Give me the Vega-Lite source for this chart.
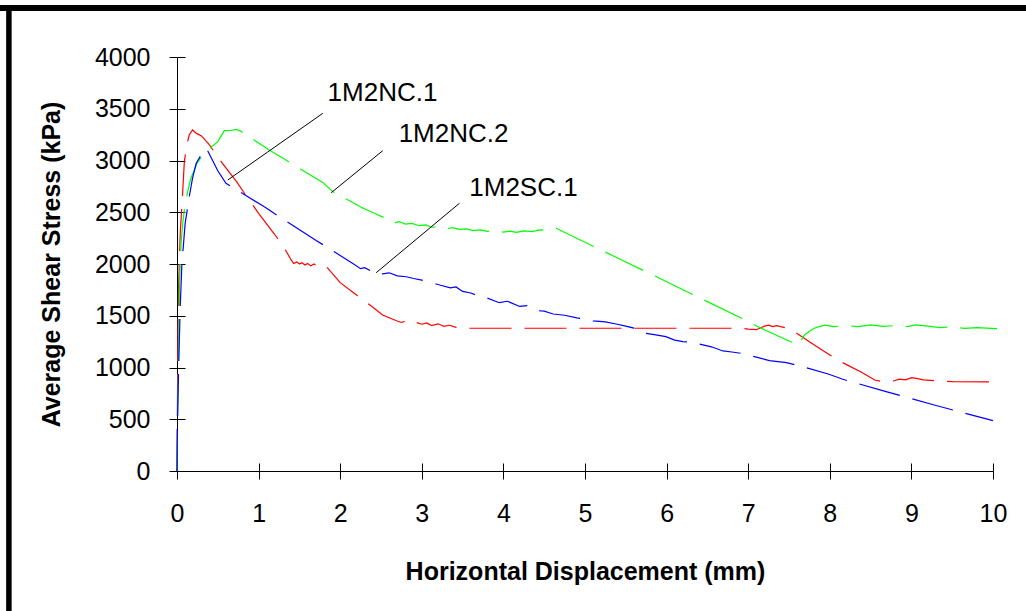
{
  "$schema": "https://vega.github.io/schema/vega-lite/v6.json",
  "width": 816,
  "height": 414,
  "autosize": {"type": "none"},
  "padding": {"left": 177, "top": 57, "right": 33, "bottom": 140},
  "background": "white",
  "config": {"view": {"stroke": null}, "font": "Liberation Sans"},
  "datasets": {
    "curves": [
      {"s": "1M2NC.1", "d": 0, "t": 0}, {"s": "1M2NC.1", "d": 0.005, "t": 600}, {"s": "1M2NC.1", "d": 0.01, "t": 1200}, {"s": "1M2NC.1", "d": 0.02, "t": 1800}, {"s": "1M2NC.1", "d": 0.04, "t": 2300}, {"s": "1M2NC.1", "d": 0.07, "t": 2700}, {"s": "1M2NC.1", "d": 0.09, "t": 2990}, {"s": "1M2NC.1", "d": 0.12, "t": 3150}, {"s": "1M2NC.1", "d": 0.15, "t": 3246}, {"s": "1M2NC.1", "d": 0.19, "t": 3295}, {"s": "1M2NC.1", "d": 0.235, "t": 3263}, {"s": "1M2NC.1", "d": 0.27, "t": 3250}, {"s": "1M2NC.1", "d": 0.3, "t": 3237}, {"s": "1M2NC.1", "d": 0.39, "t": 3159}, {"s": "1M2NC.1", "d": 0.55, "t": 2980}, {"s": "1M2NC.1", "d": 0.73, "t": 2795}, {"s": "1M2NC.1", "d": 0.84, "t": 2667}, {"s": "1M2NC.1", "d": 1.0, "t": 2490}, {"s": "1M2NC.1", "d": 1.17, "t": 2312}, {"s": "1M2NC.1", "d": 1.28, "t": 2200}, {"s": "1M2NC.1", "d": 1.4, "t": 2039}, {"s": "1M2NC.1", "d": 1.43, "t": 2005}, {"s": "1M2NC.1", "d": 1.47, "t": 2020}, {"s": "1M2NC.1", "d": 1.5, "t": 2000}, {"s": "1M2NC.1", "d": 1.53, "t": 2012}, {"s": "1M2NC.1", "d": 1.57, "t": 1990}, {"s": "1M2NC.1", "d": 1.6, "t": 2005}, {"s": "1M2NC.1", "d": 1.64, "t": 1982}, {"s": "1M2NC.1", "d": 1.68, "t": 2000}, {"s": "1M2NC.1", "d": 1.72, "t": 1978}, {"s": "1M2NC.1", "d": 1.76, "t": 1992}, {"s": "1M2NC.1", "d": 1.83, "t": 1975}, {"s": "1M2NC.1", "d": 2.0, "t": 1820}, {"s": "1M2NC.1", "d": 2.2, "t": 1700}, {"s": "1M2NC.1", "d": 2.38, "t": 1594}, {"s": "1M2NC.1", "d": 2.52, "t": 1507}, {"s": "1M2NC.1", "d": 2.69, "t": 1452}, {"s": "1M2NC.1", "d": 2.75, "t": 1435}, {"s": "1M2NC.1", "d": 2.8, "t": 1448}, {"s": "1M2NC.1", "d": 2.86, "t": 1425}, {"s": "1M2NC.1", "d": 2.92, "t": 1438}, {"s": "1M2NC.1", "d": 3.0, "t": 1418}, {"s": "1M2NC.1", "d": 3.06, "t": 1430}, {"s": "1M2NC.1", "d": 3.12, "t": 1405}, {"s": "1M2NC.1", "d": 3.2, "t": 1422}, {"s": "1M2NC.1", "d": 3.27, "t": 1398}, {"s": "1M2NC.1", "d": 3.34, "t": 1408}, {"s": "1M2NC.1", "d": 3.42, "t": 1388}, {"s": "1M2NC.1", "d": 3.52, "t": 1379}, {"s": "1M2NC.1", "d": 4.5, "t": 1379}, {"s": "1M2NC.1", "d": 5.5, "t": 1379}, {"s": "1M2NC.1", "d": 6.93, "t": 1379}, {"s": "1M2NC.1", "d": 7.0, "t": 1370}, {"s": "1M2NC.1", "d": 7.1, "t": 1365}, {"s": "1M2NC.1", "d": 7.2, "t": 1400}, {"s": "1M2NC.1", "d": 7.25, "t": 1410}, {"s": "1M2NC.1", "d": 7.3, "t": 1395}, {"s": "1M2NC.1", "d": 7.35, "t": 1405}, {"s": "1M2NC.1", "d": 7.45, "t": 1385}, {"s": "1M2NC.1", "d": 7.5, "t": 1379}, {"s": "1M2NC.1", "d": 7.75, "t": 1249}, {"s": "1M2NC.1", "d": 7.89, "t": 1176}, {"s": "1M2NC.1", "d": 8.1, "t": 1070}, {"s": "1M2NC.1", "d": 8.4, "t": 950}, {"s": "1M2NC.1", "d": 8.55, "t": 879}, {"s": "1M2NC.1", "d": 8.62, "t": 868}, {"s": "1M2NC.1", "d": 8.7, "t": 875}, {"s": "1M2NC.1", "d": 8.78, "t": 870}, {"s": "1M2NC.1", "d": 8.85, "t": 888}, {"s": "1M2NC.1", "d": 8.93, "t": 880}, {"s": "1M2NC.1", "d": 9.0, "t": 902}, {"s": "1M2NC.1", "d": 9.06, "t": 895}, {"s": "1M2NC.1", "d": 9.15, "t": 880}, {"s": "1M2NC.1", "d": 9.3, "t": 872}, {"s": "1M2NC.1", "d": 9.5, "t": 863}, {"s": "1M2NC.1", "d": 10.05, "t": 860},

      {"s": "1M2NC.2", "d": 0, "t": 0}, {"s": "1M2NC.2", "d": 0.01, "t": 600}, {"s": "1M2NC.2", "d": 0.02, "t": 1200}, {"s": "1M2NC.2", "d": 0.03, "t": 1800}, {"s": "1M2NC.2", "d": 0.05, "t": 2200}, {"s": "1M2NC.2", "d": 0.07, "t": 2393}, {"s": "1M2NC.2", "d": 0.09, "t": 2522}, {"s": "1M2NC.2", "d": 0.13, "t": 2700}, {"s": "1M2NC.2", "d": 0.17, "t": 2828}, {"s": "1M2NC.2", "d": 0.25, "t": 2980}, {"s": "1M2NC.2", "d": 0.32, "t": 3060}, {"s": "1M2NC.2", "d": 0.4, "t": 3118}, {"s": "1M2NC.2", "d": 0.5, "t": 3182}, {"s": "1M2NC.2", "d": 0.58, "t": 3288}, {"s": "1M2NC.2", "d": 0.65, "t": 3290}, {"s": "1M2NC.2", "d": 0.73, "t": 3301}, {"s": "1M2NC.2", "d": 0.79, "t": 3279}, {"s": "1M2NC.2", "d": 1.13, "t": 3101}, {"s": "1M2NC.2", "d": 1.3, "t": 3021}, {"s": "1M2NC.2", "d": 1.79, "t": 2786}, {"s": "1M2NC.2", "d": 1.91, "t": 2699}, {"s": "1M2NC.2", "d": 2.28, "t": 2538}, {"s": "1M2NC.2", "d": 2.42, "t": 2490}, {"s": "1M2NC.2", "d": 2.6, "t": 2425}, {"s": "1M2NC.2", "d": 2.66, "t": 2395}, {"s": "1M2NC.2", "d": 2.72, "t": 2410}, {"s": "1M2NC.2", "d": 2.8, "t": 2385}, {"s": "1M2NC.2", "d": 2.88, "t": 2392}, {"s": "1M2NC.2", "d": 2.97, "t": 2370}, {"s": "1M2NC.2", "d": 3.05, "t": 2378}, {"s": "1M2NC.2", "d": 3.12, "t": 2355}, {"s": "1M2NC.2", "d": 3.2, "t": 2362}, {"s": "1M2NC.2", "d": 3.3, "t": 2340}, {"s": "1M2NC.2", "d": 3.38, "t": 2352}, {"s": "1M2NC.2", "d": 3.46, "t": 2335}, {"s": "1M2NC.2", "d": 3.55, "t": 2340}, {"s": "1M2NC.2", "d": 3.63, "t": 2322}, {"s": "1M2NC.2", "d": 3.72, "t": 2330}, {"s": "1M2NC.2", "d": 3.8, "t": 2315}, {"s": "1M2NC.2", "d": 3.9, "t": 2325}, {"s": "1M2NC.2", "d": 4.0, "t": 2308}, {"s": "1M2NC.2", "d": 4.08, "t": 2318}, {"s": "1M2NC.2", "d": 4.16, "t": 2305}, {"s": "1M2NC.2", "d": 4.25, "t": 2320}, {"s": "1M2NC.2", "d": 4.35, "t": 2312}, {"s": "1M2NC.2", "d": 4.45, "t": 2330}, {"s": "1M2NC.2", "d": 4.55, "t": 2322}, {"s": "1M2NC.2", "d": 4.65, "t": 2345}, {"s": "1M2NC.2", "d": 4.69, "t": 2328}, {"s": "1M2NC.2", "d": 5.5, "t": 2020}, {"s": "1M2NC.2", "d": 6.46, "t": 1652}, {"s": "1M2NC.2", "d": 6.98, "t": 1452}, {"s": "1M2NC.2", "d": 7.12, "t": 1394}, {"s": "1M2NC.2", "d": 7.61, "t": 1217}, {"s": "1M2NC.2", "d": 7.69, "t": 1314}, {"s": "1M2NC.2", "d": 7.75, "t": 1350}, {"s": "1M2NC.2", "d": 7.81, "t": 1379}, {"s": "1M2NC.2", "d": 7.87, "t": 1395}, {"s": "1M2NC.2", "d": 7.94, "t": 1410}, {"s": "1M2NC.2", "d": 8.05, "t": 1395}, {"s": "1M2NC.2", "d": 8.2, "t": 1405}, {"s": "1M2NC.2", "d": 8.35, "t": 1395}, {"s": "1M2NC.2", "d": 8.5, "t": 1412}, {"s": "1M2NC.2", "d": 8.65, "t": 1398}, {"s": "1M2NC.2", "d": 8.8, "t": 1405}, {"s": "1M2NC.2", "d": 8.95, "t": 1395}, {"s": "1M2NC.2", "d": 9.05, "t": 1412}, {"s": "1M2NC.2", "d": 9.2, "t": 1400}, {"s": "1M2NC.2", "d": 9.35, "t": 1385}, {"s": "1M2NC.2", "d": 9.5, "t": 1392}, {"s": "1M2NC.2", "d": 9.65, "t": 1378}, {"s": "1M2NC.2", "d": 9.8, "t": 1385}, {"s": "1M2NC.2", "d": 10.05, "t": 1375},

      {"s": "1M2SC.1", "d": 0, "t": 0}, {"s": "1M2SC.1", "d": 0.005, "t": 450}, {"s": "1M2SC.1", "d": 0.02, "t": 1000}, {"s": "1M2SC.1", "d": 0.04, "t": 1600}, {"s": "1M2SC.1", "d": 0.06, "t": 2000}, {"s": "1M2SC.1", "d": 0.1, "t": 2393}, {"s": "1M2SC.1", "d": 0.15, "t": 2650}, {"s": "1M2SC.1", "d": 0.19, "t": 2828}, {"s": "1M2SC.1", "d": 0.235, "t": 2973}, {"s": "1M2SC.1", "d": 0.3, "t": 3060}, {"s": "1M2SC.1", "d": 0.36, "t": 3118}, {"s": "1M2SC.1", "d": 0.43, "t": 3010}, {"s": "1M2SC.1", "d": 0.5, "t": 2901}, {"s": "1M2SC.1", "d": 0.6, "t": 2780}, {"s": "1M2SC.1", "d": 1.08, "t": 2548}, {"s": "1M2SC.1", "d": 1.24, "t": 2464}, {"s": "1M2SC.1", "d": 1.71, "t": 2225}, {"s": "1M2SC.1", "d": 1.88, "t": 2142}, {"s": "1M2SC.1", "d": 2.15, "t": 2007}, {"s": "1M2SC.1", "d": 2.25, "t": 1955}, {"s": "1M2SC.1", "d": 2.3, "t": 1965}, {"s": "1M2SC.1", "d": 2.38, "t": 1932}, {"s": "1M2SC.1", "d": 2.44, "t": 1940}, {"s": "1M2SC.1", "d": 2.52, "t": 1905}, {"s": "1M2SC.1", "d": 2.6, "t": 1915}, {"s": "1M2SC.1", "d": 2.7, "t": 1885}, {"s": "1M2SC.1", "d": 2.81, "t": 1877}, {"s": "1M2SC.1", "d": 2.9, "t": 1860}, {"s": "1M2SC.1", "d": 3.0, "t": 1845}, {"s": "1M2SC.1", "d": 3.1, "t": 1825}, {"s": "1M2SC.1", "d": 3.22, "t": 1797}, {"s": "1M2SC.1", "d": 3.35, "t": 1770}, {"s": "1M2SC.1", "d": 3.42, "t": 1778}, {"s": "1M2SC.1", "d": 3.5, "t": 1735}, {"s": "1M2SC.1", "d": 3.6, "t": 1720}, {"s": "1M2SC.1", "d": 3.7, "t": 1690}, {"s": "1M2SC.1", "d": 3.8, "t": 1672}, {"s": "1M2SC.1", "d": 3.95, "t": 1626}, {"s": "1M2SC.1", "d": 4.05, "t": 1640}, {"s": "1M2SC.1", "d": 4.2, "t": 1590}, {"s": "1M2SC.1", "d": 4.3, "t": 1598}, {"s": "1M2SC.1", "d": 4.4, "t": 1550}, {"s": "1M2SC.1", "d": 4.5, "t": 1545}, {"s": "1M2SC.1", "d": 4.61, "t": 1517}, {"s": "1M2SC.1", "d": 4.75, "t": 1505}, {"s": "1M2SC.1", "d": 4.9, "t": 1480}, {"s": "1M2SC.1", "d": 5.0, "t": 1468}, {"s": "1M2SC.1", "d": 5.1, "t": 1450}, {"s": "1M2SC.1", "d": 5.25, "t": 1440}, {"s": "1M2SC.1", "d": 5.38, "t": 1420}, {"s": "1M2SC.1", "d": 5.5, "t": 1400}, {"s": "1M2SC.1", "d": 5.6, "t": 1380}, {"s": "1M2SC.1", "d": 5.75, "t": 1330}, {"s": "1M2SC.1", "d": 5.85, "t": 1318}, {"s": "1M2SC.1", "d": 5.99, "t": 1298}, {"s": "1M2SC.1", "d": 6.1, "t": 1265}, {"s": "1M2SC.1", "d": 6.2, "t": 1250}, {"s": "1M2SC.1", "d": 6.3, "t": 1245}, {"s": "1M2SC.1", "d": 6.4, "t": 1227}, {"s": "1M2SC.1", "d": 6.55, "t": 1200}, {"s": "1M2SC.1", "d": 6.69, "t": 1160}, {"s": "1M2SC.1", "d": 6.8, "t": 1150}, {"s": "1M2SC.1", "d": 6.91, "t": 1137}, {"s": "1M2SC.1", "d": 7.1, "t": 1100}, {"s": "1M2SC.1", "d": 7.26, "t": 1066}, {"s": "1M2SC.1", "d": 7.47, "t": 1047}, {"s": "1M2SC.1", "d": 7.7, "t": 1000}, {"s": "1M2SC.1", "d": 7.98, "t": 937}, {"s": "1M2SC.1", "d": 8.16, "t": 886}, {"s": "1M2SC.1", "d": 8.69, "t": 767}, {"s": "1M2SC.1", "d": 9.28, "t": 638}, {"s": "1M2SC.1", "d": 10.0, "t": 486}
    ],
    "notes": [
      {"label": "1M2NC.1", "lx": 2.518, "ly": 3652, "x1": 1.787, "y1": 3456, "x2": 0.623, "y2": 2812},
      {"label": "1M2NC.2", "lx": 3.389, "ly": 3256, "x1": 2.522, "y1": 3095, "x2": 1.89, "y2": 2689},
      {"label": "1M2SC.1", "lx": 4.246, "ly": 2734, "x1": 3.462, "y1": 2587, "x2": 2.441, "y2": 1916}
    ]
  },
  "layer": [
    {
      "data": {"name": "curves"},
      "mark": {"type": "line", "strokeWidth": 1.2, "strokeDash": [42, 13]},
      "encoding": {
        "x": {"field": "d", "type": "quantitative",
          "scale": {"domain": [0, 10], "nice": false, "zero": false},
          "axis": {"values": [0,1,2,3,4,5,6,7,8,9,10], "labelFlush": false, "grid": true, "gridColor": "black", "gridOpacity": 1, "gridDash": [8, 2000], "gridDashOffset": 1602, "domainColor": "black", "tickColor": "black", "tickSize": 8,
            "labelFontSize": 25, "labelColor": "black", "labelPadding": 22, "labelFont": "Liberation Sans",
            "title": "Horizontal Displacement (mm)", "titleFontSize": 25, "titleFont": "Liberation Sans", "titleFontWeight": "bold", "titleColor": "black", "titlePadding": 33}},
        "y": {"field": "t", "type": "quantitative",
          "scale": {"domain": [0, 4000], "nice": false},
          "axis": {"values": [0,500,1000,1500,2000,2500,3000,3500,4000], "format": "d", "labelFlush": false, "grid": true, "gridColor": "black", "gridOpacity": 1, "gridDash": [8, 2000], "domainColor": "black", "tickColor": "black", "tickSize": 8,
            "labelFontSize": 25, "labelColor": "black", "labelPadding": 19, "labelFont": "Liberation Sans",
            "title": "Average Shear Stress (kPa)", "titleFontSize": 25, "titleFont": "Liberation Sans", "titleFontWeight": "bold", "titleColor": "black", "titlePadding": 30}},
        "color": {"field": "s", "type": "nominal",
          "scale": {"domain": ["1M2NC.1", "1M2NC.2", "1M2SC.1"], "range": ["#ff0000", "#00ff00", "#0000ff"]},
          "legend": null}
      }
    },
    {
      "data": {"name": "notes"},
      "mark": {"type": "rule", "color": "black", "strokeWidth": 1},
      "encoding": {
        "x": {"field": "x1", "type": "quantitative", "axis": null},
        "y": {"field": "y1", "type": "quantitative", "axis": null},
        "x2": {"field": "x2"},
        "y2": {"field": "y2"}
      }
    },
    {
      "data": {"name": "notes"},
      "mark": {"type": "text", "fontSize": 26, "font": "Liberation Sans", "color": "black", "align": "center", "baseline": "middle"},
      "encoding": {
        "x": {"field": "lx", "type": "quantitative", "axis": null},
        "y": {"field": "ly", "type": "quantitative", "axis": null},
        "text": {"field": "label"}
      }
    },
    {
      "data": {"values": [{}]},
      "mark": {"type": "rule", "color": "black", "strokeWidth": 5.5},
      "encoding": {
        "x": {"datum": -2.06, "type": "quantitative", "axis": null},
        "y": {"datum": 4480, "type": "quantitative", "axis": null},
        "y2": {"datum": -1500}
      }
    },
    {
      "data": {"values": [{}]},
      "mark": {"type": "rule", "color": "black", "strokeWidth": 6},
      "encoding": {
        "y": {"datum": 4473, "type": "quantitative", "axis": null},
        "x": {"datum": -2.3, "type": "quantitative", "axis": null},
        "x2": {"datum": 11}
      }
    }
  ],
  "resolve": {"axis": {"x": "independent", "y": "independent"}}
}
